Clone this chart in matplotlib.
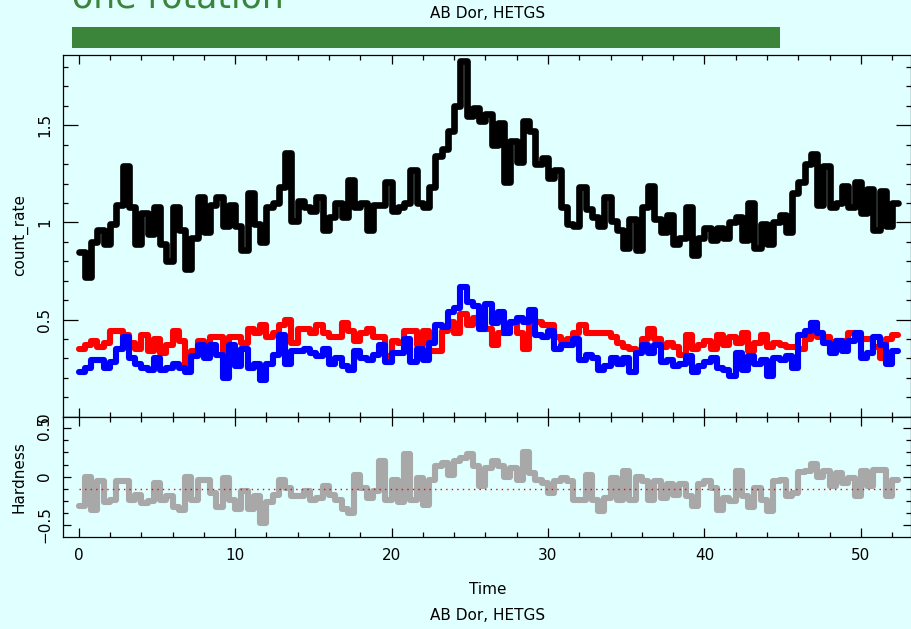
import matplotlib.pyplot as plt
import numpy as np
from matplotlib.ticker import MultipleLocator, FuncFormatter
from matplotlib.patches import Rectangle
from matplotlib.transforms import blended_transform_factory

# light curve of AB Dor, binned (time in ks)
bin_width = 0.4

count_rate = [
    0.85, 0.72, 0.90, 0.96, 0.89, 0.99, 1.09, 1.29, 1.08, 0.89,
    1.05, 0.94, 1.08, 0.89, 0.80, 1.08, 0.96, 0.76, 0.92, 1.13,
    0.95, 1.09, 1.13, 0.98, 1.09, 0.98, 0.86, 1.15, 0.99, 0.90,
    1.08, 1.10, 1.18, 1.36, 1.01, 1.11, 1.08, 1.06, 1.13, 0.96,
    1.03, 1.10, 1.03, 1.22, 1.08, 1.10, 0.96, 1.09, 1.09, 1.21,
    1.06, 1.08, 1.10, 1.27, 1.10, 1.08, 1.18, 1.34, 1.38, 1.47,
    1.60, 1.83, 1.55, 1.59, 1.52, 1.56, 1.40, 1.51, 1.21, 1.42,
    1.31, 1.52, 1.47, 1.30, 1.33, 1.23, 1.27, 1.08, 0.99, 0.98,
    1.18, 1.07, 1.03, 0.98, 1.13, 1.01, 0.96, 0.87, 1.02, 0.86,
    1.08, 1.19, 1.02, 0.95, 1.04, 0.89, 0.92, 1.08, 0.83, 0.92,
    0.97, 0.91, 0.97, 0.92, 1.00, 1.03, 0.91, 1.10, 0.87, 0.99,
    0.89, 1.00, 1.04, 0.95, 1.15, 1.21, 1.30, 1.35, 1.09, 1.29,
    1.08, 1.10, 1.19, 1.08, 1.21, 1.05, 1.17, 0.96, 1.16, 0.98,
    1.10]

soft_rate = [
    0.35, 0.37, 0.39, 0.36, 0.38, 0.44, 0.44, 0.42, 0.38, 0.35,
    0.42, 0.34, 0.40, 0.33, 0.37, 0.44, 0.39, 0.26, 0.34, 0.39,
    0.38, 0.41, 0.41, 0.34, 0.41, 0.41, 0.38, 0.45, 0.43, 0.47,
    0.41, 0.43, 0.47, 0.50, 0.38, 0.45, 0.45, 0.43, 0.47, 0.43,
    0.41, 0.41, 0.48, 0.44, 0.39, 0.43, 0.45, 0.41, 0.41, 0.31,
    0.39, 0.38, 0.44, 0.44, 0.37, 0.44, 0.34, 0.34, 0.44, 0.49,
    0.43, 0.53, 0.47, 0.51, 0.51, 0.45, 0.37, 0.43, 0.45, 0.48,
    0.43, 0.35, 0.48, 0.49, 0.47, 0.47, 0.41, 0.39, 0.40, 0.43,
    0.47, 0.43, 0.43, 0.43, 0.43, 0.41, 0.38, 0.36, 0.35, 0.34,
    0.40, 0.45, 0.40, 0.36, 0.38, 0.36, 0.32, 0.42, 0.35, 0.37,
    0.39, 0.35, 0.42, 0.37, 0.41, 0.38, 0.43, 0.34, 0.38, 0.42,
    0.36, 0.38, 0.37, 0.36, 0.36, 0.35, 0.40, 0.48, 0.41, 0.41,
    0.35, 0.39, 0.39, 0.43, 0.40, 0.40, 0.40, 0.36, 0.30, 0.40,
    0.42]

hard_rate = [
    0.23, 0.25, 0.29, 0.29, 0.25, 0.28, 0.35, 0.41, 0.30, 0.27,
    0.25, 0.24, 0.30, 0.24, 0.25, 0.27, 0.25, 0.23, 0.31, 0.37,
    0.30, 0.37, 0.32, 0.20, 0.37, 0.26, 0.35, 0.25, 0.27, 0.19,
    0.27, 0.32, 0.42, 0.27, 0.34, 0.34, 0.35, 0.33, 0.31, 0.35,
    0.27, 0.30, 0.26, 0.24, 0.34, 0.30, 0.29, 0.32, 0.37, 0.28,
    0.33, 0.33, 0.40, 0.28, 0.35, 0.29, 0.38, 0.47, 0.46, 0.54,
    0.56, 0.67, 0.59, 0.57, 0.45, 0.58, 0.48, 0.54, 0.43, 0.49,
    0.51, 0.49, 0.55, 0.42, 0.41, 0.44, 0.35, 0.37, 0.37, 0.40,
    0.29, 0.32, 0.30, 0.24, 0.26, 0.30, 0.27, 0.30, 0.23, 0.33,
    0.37, 0.33, 0.37, 0.28, 0.29, 0.26, 0.27, 0.31, 0.23, 0.26,
    0.28, 0.30, 0.25, 0.24, 0.21, 0.33, 0.24, 0.31, 0.27, 0.29,
    0.21, 0.30, 0.29, 0.31, 0.25, 0.42, 0.44, 0.48, 0.43, 0.38,
    0.33, 0.39, 0.34, 0.39, 0.43, 0.30, 0.33, 0.41, 0.37, 0.27,
    0.34]

hardness = [
    -0.30, 0.00, -0.34, -0.05, -0.26, -0.24, -0.05, -0.05, -0.24, -0.19,
    -0.27, -0.25, -0.07, -0.24, -0.20, -0.31, -0.34, 0.00, -0.24, -0.03,
    -0.03, -0.17, -0.31, -0.01, -0.24, -0.33, -0.15, -0.33, -0.20, -0.48,
    -0.26, -0.19, -0.03, -0.12, -0.20, -0.20, -0.15, -0.24, -0.22, -0.10,
    -0.19, -0.24, -0.33, -0.38, 0.02, -0.12, -0.22, -0.15, 0.16, -0.24,
    -0.03, -0.26, 0.23, -0.24, -0.01, -0.29, -0.03, 0.11, 0.14, 0.02,
    0.16, 0.19, 0.23, 0.11, -0.10, 0.09, 0.16, 0.11, 0.00, 0.09,
    -0.03, 0.25, 0.04, -0.03, -0.07, -0.17, -0.05, -0.01, -0.04, -0.24,
    -0.24, 0.02, -0.24, -0.36, -0.22, -0.01, -0.24, 0.06, -0.24, 0.00,
    -0.05, -0.24, -0.05, -0.22, -0.08, -0.19, -0.08, -0.20, -0.30, -0.08,
    -0.05, -0.12, -0.34, -0.22, -0.25, 0.06, -0.20, -0.31, -0.12, -0.24,
    -0.36, -0.05, -0.03, -0.20, -0.17, 0.05, 0.06, 0.13, 0.00, 0.06,
    -0.10, 0.04, -0.07, -0.01, -0.20, 0.06, -0.10, 0.07, 0.07, -0.20,
    -0.03]

hardness_mean = -0.13
rotation_start, rotation_end = -0.45, 44.8

bg = '#e0ffff'
green = '#3a853a'

plt.rcParams['font.family'] = 'DejaVu Sans'
plt.rcParams['axes.linewidth'] = 0.9

fig = plt.figure(figsize=(9.11, 6.29), dpi=100, facecolor=bg)
W, H = 911.0, 629.0


def box(x0, y0, x1, y1):
    return [x0 / W, 1 - y1 / H, (x1 - x0) / W, (y1 - y0) / H]


ax1 = fig.add_axes(box(63.3, 55, 910.6, 416.7))
ax2 = fig.add_axes(box(63.3, 416.7, 910.6, 537))


def stepline(ax, vals, **kw):
    vals = np.asarray(vals)
    t = np.arange(len(vals) + 1) * bin_width
    ax.step(t, np.append(vals, vals[-1]), where='post',
            solid_capstyle='round', solid_joinstyle='round', **kw)
    return t


stepline(ax1, count_rate, color='black', lw=4.8)
stepline(ax1, soft_rate, color='#ff0000', lw=4.4)
stepline(ax1, hard_rate, color='#0000ff', lw=4.4)

t = stepline(ax2, hardness, color='#a8a8a8', lw=4.4)
ax2.plot([t[0], t[-1]], [hardness_mean, hardness_mean], color='#ff0000',
         lw=1.0, ls=(0, (1, 3)))


def fmt(v, pos):
    s = '%g' % round(v, 3)
    return s.replace('-', '\u2212')


for ax in (ax1, ax2):
    ax.set_facecolor(bg)
    ax.set_xlim(-0.985, 53.18)
    ax.xaxis.set_major_locator(MultipleLocator(10))
    ax.xaxis.set_minor_locator(MultipleLocator(2))
    ax.tick_params(which='both', direction='in', top=True, right=True,
                   labelsize=11, colors='black')
    ax.tick_params(axis='x', which='major', length=6.5, width=0.9)
    ax.tick_params(axis='x', which='minor', length=3.6, width=0.9)
    ax.yaxis.set_major_formatter(FuncFormatter(fmt))

ax1.set_ylim(0, 1.862)
ax1.yaxis.set_major_locator(MultipleLocator(0.5))
ax1.yaxis.set_minor_locator(MultipleLocator(0.1))
ax1.tick_params(axis='y', which='major', length=11, width=0.9, pad=8)
ax1.tick_params(axis='y', which='minor', length=3.6, width=0.9)
ax1.tick_params(axis='x', labelbottom=False)

ax2.set_ylim(-0.624, 0.62)
ax2.yaxis.set_major_locator(MultipleLocator(0.5))
ax2.yaxis.set_minor_locator(MultipleLocator(0.125))
ax2.tick_params(axis='y', which='major', length=6.0, width=0.9, pad=8)
ax2.tick_params(axis='y', which='minor', length=3.6, width=0.9)
ax2.tick_params(axis='x', pad=8)
ax2.xaxis.set_major_formatter(FuncFormatter(fmt))

for ax in (ax1, ax2):
    for lab in ax.get_yticklabels():
        lab.set_rotation(90)
        lab.set_verticalalignment('center')

# labels
fig.text(20 / W, 1 - 235 / H, 'count_rate', rotation=90, ha='center',
         va='center', fontsize=11)
fig.text(19 / W, 1 - 477 / H, 'Hardness', rotation=90, ha='center',
         va='center', fontsize=11)
fig.text(488 / W, 1 - 590 / H, 'Time', ha='center', va='center', fontsize=11)
fig.text(488 / W, 1 - 615 / H, 'AB Dor, HETGS', ha='center', va='center',
         fontsize=11)
fig.text(488 / W, 1 - 14 / H, 'AB Dor, HETGS', ha='center', va='center',
         fontsize=11)

# one rotation bar
tr = blended_transform_factory(ax1.transData, fig.transFigure)
bar = Rectangle((rotation_start, 1 - 48 / H), rotation_end - rotation_start,
                21 / H, transform=tr, facecolor=green, edgecolor='none',
                clip_on=False)
fig.patches.append(bar)
fig.text(72 / W, 1 - 7 / H, 'one rotation', ha='left', va='baseline',
         fontsize=25, color=green)

fig.savefig('out.png', dpi=100, facecolor=bg)
